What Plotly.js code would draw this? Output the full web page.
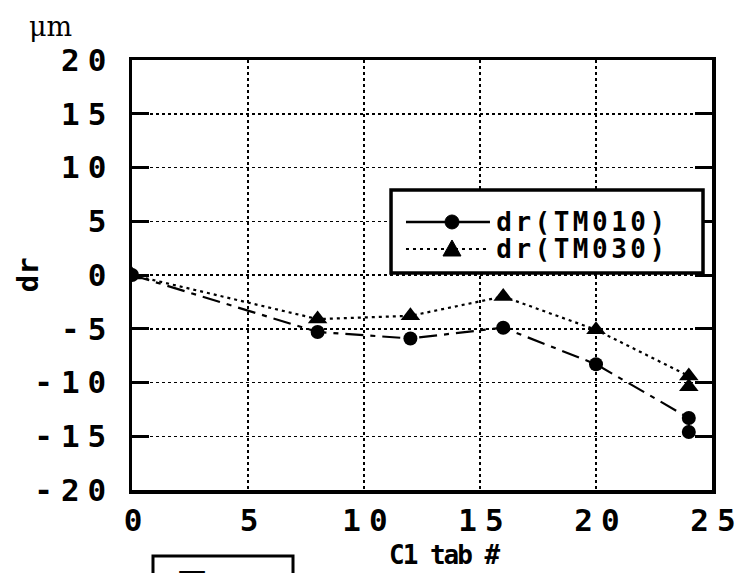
<!DOCTYPE html>
<html>
<head>
<meta charset="utf-8">
<script src="https://cdn.plot.ly/plotly-3.0.1.min.js"></script>
<style>
  html, body { margin: 0; padding: 0; background: #fff; }
  #chart { width: 737px; height: 573px; }
  .xtick text, .ytick text { letter-spacing: 8px; }
  .annotation[data-index="4"] text, .annotation[data-index="5"] text { letter-spacing: 3.5px; }
  .annotation[data-index="3"] text { letter-spacing: -2px; }
</style>
</head>
<body>
<div id="chart"></div>
<script>
// C1 tab number
const tabTM010 = [0, 8, 12, 16, 20, 24, 24];
const drTM010  = [0, -5.3, -5.9, -4.9, -8.3, -13.3, -14.6];
const tabTM030 = [0, 8, 12, 16, 20, 24, 24];
const drTM030  = [0, -4.1, -3.8, -2.0, -5.1, -9.4, -10.4];
const seriesNames = ["dr(TM010)", "dr(TM030)"];

const xTickVals = [0, 5, 10, 15, 20, 25];
const xTickText = ["0", "5", "10", "15", "20", "25"];
const yTickVals = [20, 15, 10, 5, 0, -5, -10, -15, -20];
const yTickText = ["20", "15", "10", "5", "0", "-5", "-10", "-15", "-20"];

const monoBold = { family: "DejaVu Sans Mono", size: 31, color: "#000", weight: "bold" };

const traces = [
  {
    x: tabTM010, y: drTM010, name: seriesNames[0], type: "scatter", mode: "lines+markers",
    line: { color: "#000", width: 2.2, dash: "18px,7px,5px,7px" },
    marker: { symbol: "circle", size: 14, color: "#000" }
  },
  {
    x: tabTM030, y: drTM030, name: seriesNames[1], type: "scatter", mode: "lines+markers",
    line: { color: "#000", width: 2.2, dash: "3px,4px" },
    marker: { symbol: "triangle-up", size: 17, color: "#000" }
  }
];

// legend geometry (paper coords)
const LX0 = 0.4466, LX1 = 0.9845, LY0 = 0.6977, LY1 = 0.5047;
const R1 = 0.6233, R2 = 0.5605;
const SL0 = 0.4724, SL1 = 0.6172, M1 = 0.5517, M2 = 0.5517, TX = 0.6517;

const layout = {
  width: 737, height: 573,
  margin: { l: 132, r: 25, t: 60, b: 83 },
  paper_bgcolor: "#fff", plot_bgcolor: "#fff",
  showlegend: false,
  xaxis: {
    range: [0, 25], tickvals: xTickVals, ticktext: xTickText,
    showgrid: true, gridcolor: "#000", gridwidth: 1.5, griddash: "dot",
    zeroline: false, showline: true, linecolor: "#000", linewidth: 3.5, mirror: true,
    ticks: "", tickfont: monoBold, ticklabelstandoff: 0, ticklabelshift: 5,
    ticklabeloverflow: "allow"
  },
  yaxis: {
    range: [-20, 20], tickvals: yTickVals, ticktext: yTickText,
    showgrid: true, gridcolor: "#000", gridwidth: 1.5, griddash: "dot",
    zeroline: false, showline: true, linecolor: "#000", linewidth: 3.5, mirror: "allticks",
    ticks: "inside", ticklen: 17, tickwidth: 3, tickcolor: "#000",
    tickfont: monoBold, ticklabelstandoff: 8, ticklabeloverflow: "allow"
  },
  shapes: [
    // figure caption box (cut off at page bottom)
    { type: "rect", xref: "paper", yref: "paper", x0: 0.0362, x1: 0.2776, y0: -0.1535, y1: -0.4,
      line: { color: "#000", width: 3 }, fillcolor: "rgba(0,0,0,0)" },
    // legend box
    { type: "rect", xref: "paper", yref: "paper", x0: LX0, x1: LX1, y0: LY0, y1: LY1,
      line: { color: "#000", width: 3.5 }, fillcolor: "#fff" },
    // legend samples
    { type: "line", xref: "paper", yref: "paper", x0: SL0, x1: SL1, y0: R1, y1: R1,
      line: { color: "#000", width: 2.5 } },
    { type: "line", xref: "paper", yref: "paper", x0: SL0, x1: SL1, y0: R2, y1: R2,
      line: { color: "#000", width: 2.2, dash: "3px,4px" } },
    { type: "circle", xref: "paper", yref: "paper", xsizemode: "pixel", ysizemode: "pixel",
      xanchor: M1, yanchor: R1, x0: -7, x1: 7, y0: -7, y1: 7,
      line: { color: "#000", width: 1 }, fillcolor: "#000" },
    { type: "path", xref: "paper", yref: "paper", xsizemode: "pixel", ysizemode: "pixel",
      xanchor: M2, yanchor: R2, path: "M-9,-7 L9,-7 L0,9 Z",
      line: { color: "#000", width: 1 }, fillcolor: "#000" }
  ],
  annotations: [
    { text: "μm", xref: "paper", yref: "paper", x: -0.141, y: 1.077, xanchor: "center", yanchor: "middle",
      showarrow: false, font: { family: "DejaVu Serif", size: 27, color: "#000" } },
    { text: "図　5", xref: "paper", yref: "paper", x: 0.145, y: -0.158, xanchor: "center", yanchor: "top",
      showarrow: false, font: { family: "Noto Sans CJK JP", size: 30, color: "#000", weight: "bold" } },
    { text: "dr", xref: "paper", yref: "paper", x: -0.179, y: 0.5, xanchor: "center", yanchor: "middle",
      textangle: -90, showarrow: false, font: { family: "DejaVu Sans Mono", size: 29, color: "#000", weight: "bold" } },
    { text: "C1 tab #", xref: "paper", yref: "paper", x: 0.538, y: -0.151, xanchor: "center", yanchor: "middle",
      showarrow: false, font: { family: "DejaVu Sans Mono", size: 26, color: "#000", weight: "bold" } },
    { text: seriesNames[0], xref: "paper", yref: "paper", x: TX, y: R1, xanchor: "left", yanchor: "middle",
      showarrow: false, font: { family: "DejaVu Sans Mono", size: 26, color: "#000", weight: "bold" } },
    { text: seriesNames[1], xref: "paper", yref: "paper", x: TX, y: R2, xanchor: "left", yanchor: "middle",
      showarrow: false, font: { family: "DejaVu Sans Mono", size: 26, color: "#000", weight: "bold" } }
  ]
};

Plotly.newPlot("chart", traces, layout, { displayModeBar: false, staticPlot: true });
</script>
</body>
</html>
